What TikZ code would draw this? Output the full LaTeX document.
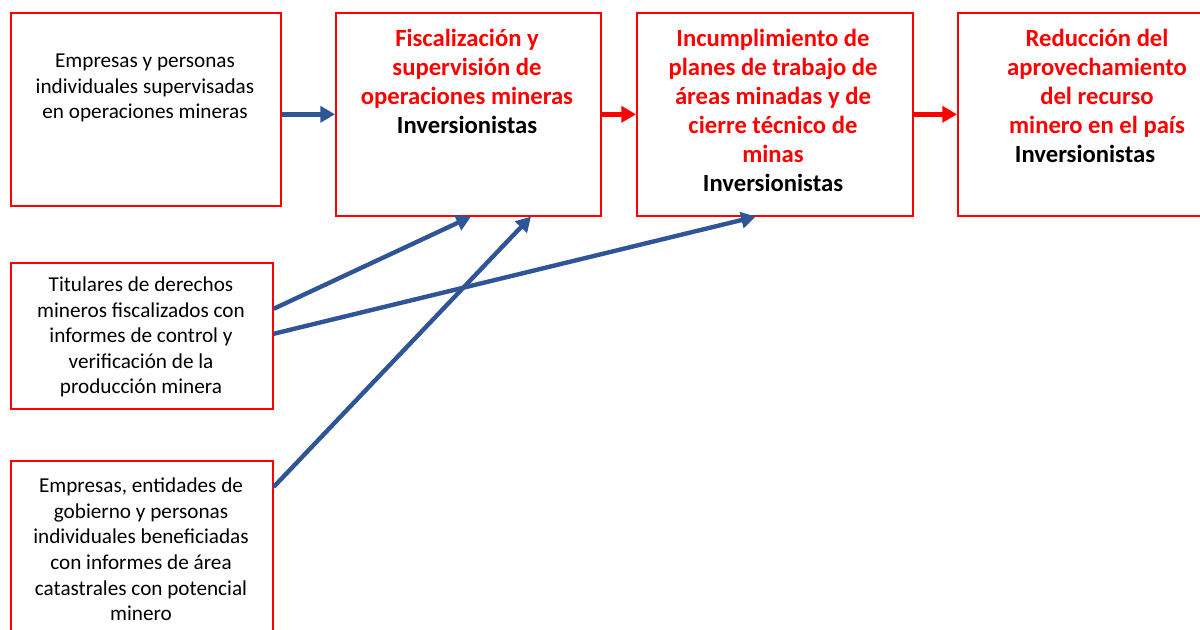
\documentclass[tikz,border=0pt]{standalone}
\usepackage{fontspec}
\setmainfont{Carlito}
\usetikzlibrary{arrows.meta}
\definecolor{boxred}{RGB}{255,0,0}
\definecolor{arrowblue}{RGB}{47,85,151}
\begin{document}
\begin{tikzpicture}[x=0.75pt,y=-0.75pt,
  box/.style={draw=boxred,line width=1.2pt,anchor=north west,inner sep=0pt},
  plain/.style={align=center,font=\fontsize{15.9}{19.2}\selectfont,text=black},
  strong/.style={align=center,font=\fontsize{18.5}{21.8}\selectfont\bfseries,text=boxred},
  bluearrow/.style={draw=arrowblue,line width=3.3pt,-{Triangle[length=11pt,width=12pt]}},
  redarrow/.style={draw=boxred,line width=3.3pt,-{Triangle[length=11pt,width=12pt]}}]
\useasboundingbox (0,0) rectangle (1200,629);
% boxes
\node[box,minimum width={270*0.75pt},minimum height={193*0.75pt}] (A) at (10,12) {};
\node[box,minimum width={265*0.75pt},minimum height={203*0.75pt}] (B) at (335,12) {};
\node[box,minimum width={276*0.75pt},minimum height={203*0.75pt}] (C) at (636,12) {};
\node[box,minimum width={260*0.75pt},minimum height={203*0.75pt}] (D) at (957,12) {};
\node[box,minimum width={262*0.75pt},minimum height={146*0.75pt}] (E) at (10,262) {};
\node[box,minimum width={262*0.75pt},minimum height={190*0.75pt}] (F) at (10,460) {};
% texts
\node[plain] (tA) at (145,88) {Empresas y personas\\individuales supervisadas\\en operaciones mineras};
\node[strong] (tB) at (467,81.5) {Fiscalización y\\supervisión de\\operaciones mineras\\\textcolor{black}{Inversionistas}};
\node[strong] (tC) at (773,110.5) {Incumplimiento de\\planes de trabajo de\\áreas minadas y de\\cierre técnico de\\minas\\\textcolor{black}{Inversionistas}};
\node[strong] (tD) at (1097,96) {Reducción del\\aprovechamiento\\del recurso\hspace*{10pt}\\minero en el país\\\textcolor{black}{Inversionistas}\hspace*{18pt}};
\node[plain] (tE) at (141,337) {Titulares de derechos\\mineros fiscalizados con\\informes de control y\\verificación de la\\producción minera};
\node[plain] (tF) at (141,549.5) {Empresas, entidades de\\gobierno y personas\\individuales beneficiadas\\con informes de área\\catastrales con potencial\\minero};
% connector end points
\coordinate (e1) at ([yshift=20.25pt]E.east);
\coordinate (e2) at ([yshift=1.5pt]E.east);
\coordinate (f1) at ([yshift=-20.25pt]F.north east);
\coordinate (b1) at ([xshift=2pt]B.south);
\coordinate (b2) at ([xshift=47pt]B.south);
\coordinate (c1) at ([xshift=-14.25pt]C.south);
% connectors
\draw[bluearrow] (A.east |- B.west) -- (B.west);
\draw[redarrow] (B.east) -- (C.west);
\draw[redarrow] (C.east) -- (D.west);
\draw[bluearrow] (e1) -- (b1);
\draw[bluearrow] (e2) -- (c1);
\draw[bluearrow] (f1) -- (b2);
\end{tikzpicture}
\end{document}
